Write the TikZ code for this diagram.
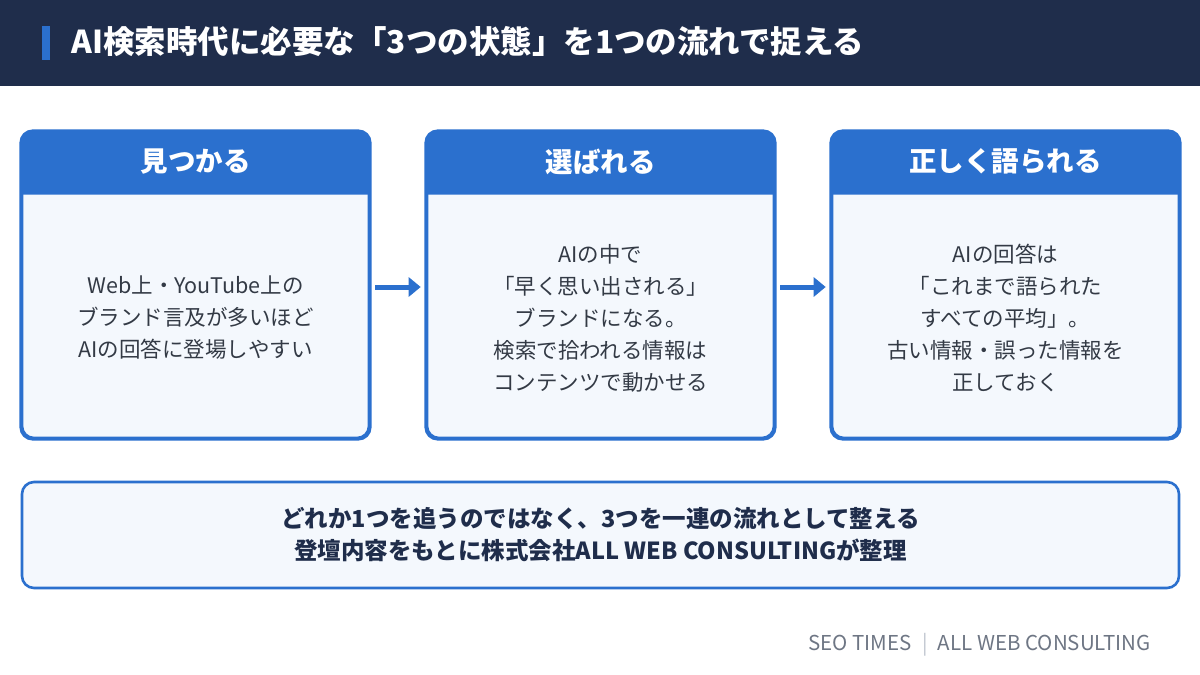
\documentclass[tikz,border=0pt]{standalone}
\usepackage{fontspec}
\setmainfont{Noto Sans CJK JP}
\usepackage{xcolor}
\usepackage{tikz}
\usetikzlibrary{arrows.meta, positioning, calc}
\definecolor{colNavy}{RGB}{31,45,75}
\definecolor{colBlue}{RGB}{43,112,206}
\definecolor{colBody}{RGB}{244,248,253}
\definecolor{colText}{RGB}{51,58,69}
\definecolor{colFoot}{RGB}{110,118,132}
\definecolor{colSep}{RGB}{190,196,206}
\tikzset{
  card/.style={
    draw=colBlue, line width=2.6pt, rectangle, rounded corners=12pt,
    fill=colBody, minimum width=347pt, minimum height=306pt
  },
  cardhead/.style={
    font=\fontsize{27.5}{30}\selectfont\bfseries, text=white, anchor=center
  },
  cardtext/.style={
    font=\fontsize{21.5}{32}\selectfont, text=colText, align=center
  },
  flowarr/.style={
    draw=colBlue, line width=5pt, -{Triangle[length=12pt, width=19pt]},
    shorten <=5pt, shorten >=5pt
  },
  summary/.style={
    draw=colBlue, line width=2.6pt, rectangle, rounded corners=12pt,
    fill=colBody, minimum width=1157pt, minimum height=106pt,
    font=\fontsize{23.5}{32}\selectfont\bfseries, text=colNavy, align=center
  },
}

\begin{document}
\begin{tikzpicture}[x=1pt, y=-1pt]

\useasboundingbox (0,0) rectangle (1200,675);
\fill[white] (0,0) rectangle (1200,675);

% ── Title band ─────────────────────────────────────────────────────────────
\fill[colNavy] (0,0) rectangle (1200,86);
\fill[colBlue] (42,26) rectangle (50,60);
\node[anchor=west, text=white, font=\fontsize{31.5}{34}\selectfont\bfseries] (title) at (68,42)
  {AI検索時代に必要な「3つの状態」を1つの流れで捉える};

% ── Cards ──────────────────────────────────────────────────────────────────
\node[card] (find)   at (195.5,285) {};
\node[card] (chosen) at (600.5,285) {};
\node[card] (told)   at (1005.5,285) {};

% header strips (top corners rounded)
\foreach \c in {find, chosen, told} {
  \fill[colBlue] ([yshift=-64pt]\c.north west) [rounded corners=12pt]
    -- (\c.north west) -- (\c.north east) [sharp corners] -- ([yshift=-64pt]\c.north east) -- cycle;
  \draw[colBlue, line width=2.6pt, rounded corners=12pt] (\c.north west) rectangle (\c.south east);
}

\node[cardhead] (findhead)   at ($(find.north)+(0,31)$)   {見つかる};
\node[cardhead] (chosenhead) at ($(chosen.north)+(0,31)$) {選ばれる};
\node[cardhead] (toldhead)   at ($(told.north)+(0,31)$)   {正しく語られる};

\node[cardtext] (findtext) at ($(find.center)+(0,33)$)
  {Web上・YouTube上の\\ブランド言及が多いほど\\AIの回答に登場しやすい};
\node[cardtext] (chosentext) at ($(chosen.center)+(0,33)$)
  {AIの中で\\「早く思い出される」\\ブランドになる。\\検索で拾われる情報は\\コンテンツで動かせる};
\node[cardtext] (toldtext) at ($(told.center)+(0,33)$)
  {AIの回答は\\「これまで語られた\\すべての平均」。\\古い情報・誤った情報を\\正しておく};

% ── Flow ───────────────────────────────────────────────────────────────────
\draw[flowarr] ([yshift=-2pt]find.east) -- ([yshift=-2pt]chosen.west);
\draw[flowarr] ([yshift=-2pt]chosen.east) -- ([yshift=-2pt]told.west);

% ── Summary ────────────────────────────────────────────────────────────────
\node[summary] (note) at (600.5,535)
  {どれか1つを追うのではなく、3つを一連の流れとして整える\\登壇内容をもとに株式会社ALL WEB CONSULTINGが整理};

% ── Footer ─────────────────────────────────────────────────────────────────
\node[anchor=east, text=colFoot, font=\fontsize{20.5}{24}\selectfont] (credit) at (1154,645)
  {SEO TIMES\enspace\textcolor{colSep}{|}\enspace ALL WEB CONSULTING};

\end{tikzpicture}
\end{document}
